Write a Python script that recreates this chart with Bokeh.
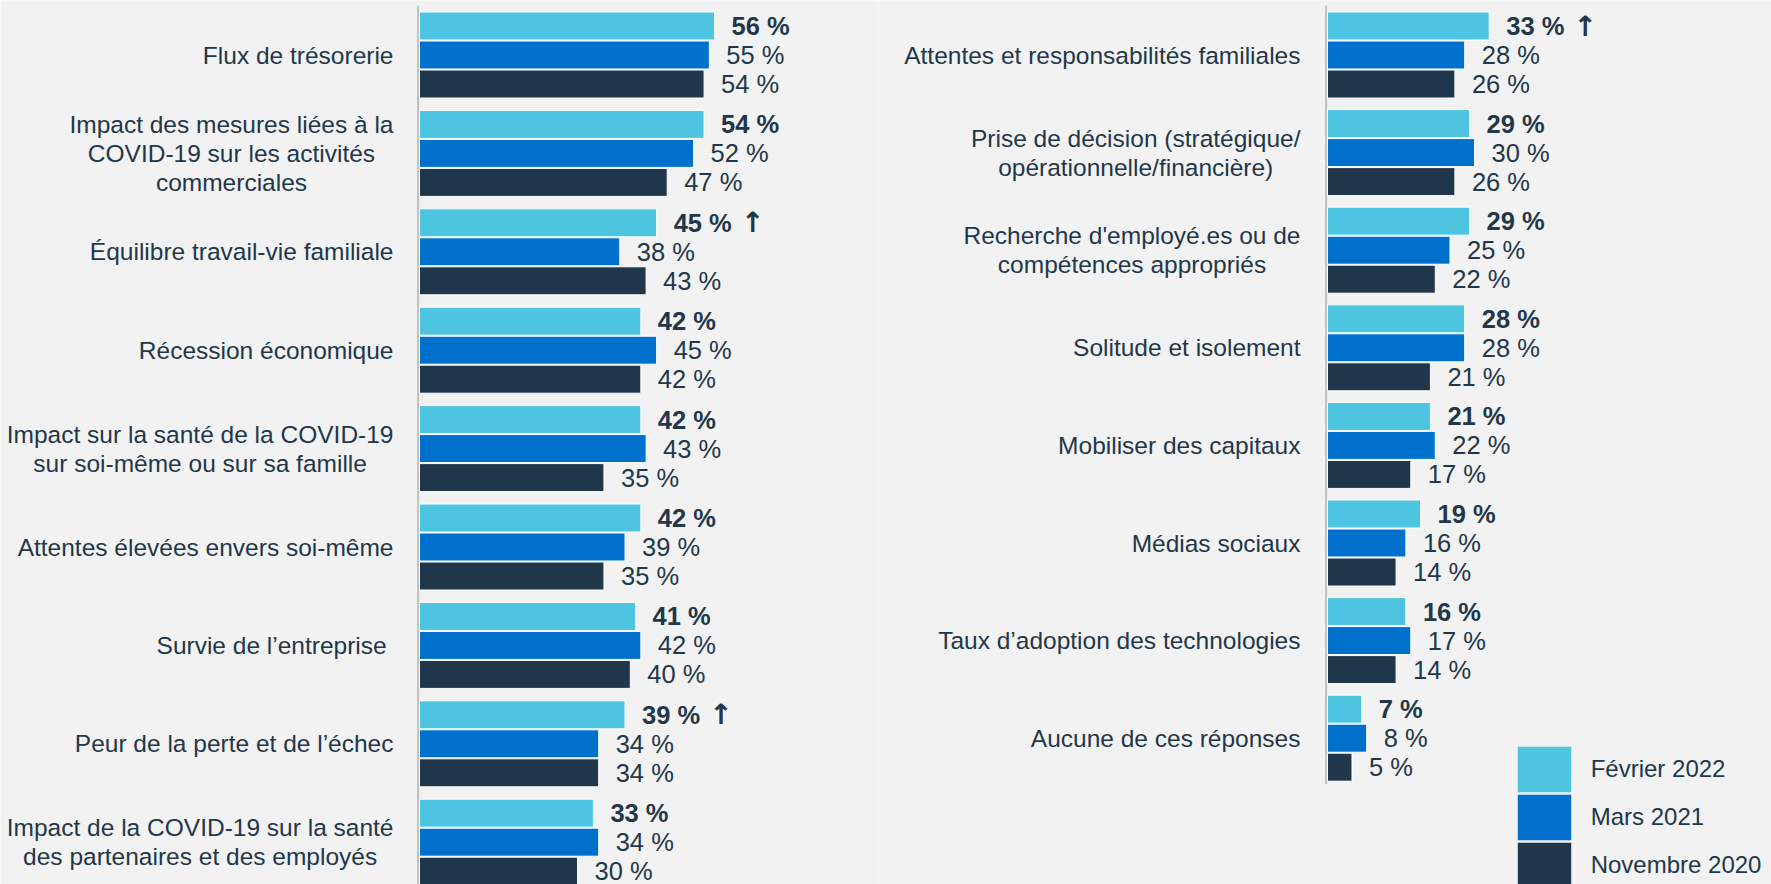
import numpy as np
from bokeh.plotting import figure
from bokeh.models import ColumnDataSource, Range1d, Legend, LegendItem
from bokeh.layouts import row
from bokeh.core.properties import value
from bokeh.embed import file_html
from bokeh.resources import INLINE

# ---------------- data ----------------
series_names = ["Février 2022", "Mars 2021", "Novembre 2020"]

left_categories = [
    "Flux de trésorerie",
    "Impact des mesures liées à la\nCOVID-19 sur les activités\ncommerciales",
    "Équilibre travail-vie familiale",
    "Récession économique",
    "Impact sur la santé de la COVID-19\nsur soi-même ou sur sa famille",
    "Attentes élevées envers soi-même",
    "Survie de l’entreprise ",
    "Peur de la perte et de l’échec",
    "Impact de la COVID-19 sur la santé\ndes partenaires et des employés",
]
left_feb2022 = [56, 54, 45, 42, 42, 42, 41, 39, 33]
left_mar2021 = [55, 52, 38, 45, 43, 39, 42, 34, 34]
left_nov2020 = [54, 47, 43, 42, 35, 35, 40, 34, 30]
left_up = [False, False, True, False, False, False, False, True, False]

right_categories = [
    "Attentes et responsabilités familiales",
    "Prise de décision (stratégique/\nopérationnelle/financière)",
    "Recherche d'employé.es ou de\ncompétences appropriés",
    "Solitude et isolement",
    "Mobiliser des capitaux",
    "Médias sociaux",
    "Taux d’adoption des technologies",
    "Aucune de ces réponses",
]
right_feb2022 = [33, 29, 29, 28, 21, 19, 16, 7]
right_mar2021 = [28, 30, 25, 28, 22, 16, 17, 8]
right_nov2020 = [26, 26, 22, 21, 17, 14, 14, 5]
right_up = [True, False, False, False, False, False, False, False]

# ---------------- style ----------------
COLORS = ["#4DC4E0", "#0070CD", "#20364A"]
TEXT = "#22374A"
BG = "#F2F2F2"
AXIS = "#BFBFBF"
FONT = value("Liberation Sans")
H = 884


def make_panel(width, px_per_unit, zero_px, group_px, categories, vals, up,
               label_gap, axis_bottom_extra=None):
    n = len(categories)
    top_center_px = 54.5
    y_top = -top_center_px / group_px
    y_bot = (H - top_center_px) / group_px
    x_start = -zero_px / px_per_unit
    x_end = (width - zero_px) / px_per_unit

    p = figure(width=width, height=H, output_backend="svg", toolbar_location=None,
               x_range=Range1d(x_start, x_end), y_range=Range1d(y_bot, y_top),
               x_axis_location=None, y_axis_location=None, min_border=0)
    p.grid.visible = False
    p.outline_line_color = None
    p.background_fill_color = BG
    p.border_fill_color = BG

    pitch = 29.0 / group_px
    bar_h = 28.0 / group_px
    idx = np.arange(n, dtype=float)

    # axis line
    y0 = y_top + 5.0 / group_px
    if axis_bottom_extra is None:
        y1 = y_bot
    else:
        y1 = (n - 1) + pitch + bar_h / 2 + axis_bottom_extra / group_px
    xl = -1.4 / px_per_unit
    p.segment(x0=[xl], x1=[xl], y0=[y0], y1=[y1], line_color=AXIS, line_width=2)

    renderers = []
    for k, (v, c) in enumerate(zip(vals, COLORS)):
        ys = idx + (k - 1) * pitch
        labels = [f"{x} %" for x in v]
        src = ColumnDataSource(dict(y=ys, right=v, label=labels))
        p.hbar(y="y", left=0, right="right", height=bar_h, source=src,
               fill_color=c, line_color="white", line_width=1)
        p.text(x="right", y="y", text="label", source=src, x_offset=17,
               text_align="left", text_baseline="middle", text_font=FONT,
               text_font_size="25.5px", text_color=TEXT,
               text_font_style="bold" if k == 0 else "normal")
        # legend proxy (hidden)
        r = p.hbar(y="y", left=0, right="right", height=bar_h, source=src,
                   fill_color=c, line_color=c, line_width=7, line_join="miter",
                   visible=False)
        renderers.append(r)
        if k == 0:
            sel = [i for i in range(n) if up[i]]
            asrc = ColumnDataSource(dict(x=[v[i] for i in sel], y=[ys[i] for i in sel],
                                         t=["↑"] * len(sel)))
            p.text(x="x", y="y", text="t", source=asrc, x_offset=17 + 79,
                   text_align="center", text_baseline="middle",
                   text_font=value("DejaVu Sans"), text_font_style="bold",
                   text_font_size="28px", text_color=TEXT)

    csrc = ColumnDataSource(dict(x=np.zeros(n), y=idx, label=categories))
    p.text(x="x", y="y", text="label", source=csrc, x_offset=-label_gap,
           anchor=value("center_right"), text_align="center", text_baseline="middle",
           text_font=FONT, text_font_size="24.5px", text_color=TEXT,
           text_line_height=1.07)
    return p, renderers


p1, _ = make_panel(878, 5.27, 419, 98.4, left_categories,
                   [left_feb2022, left_mar2021, left_nov2020], left_up, 26)
p2, rr = make_panel(893, 4.9, 449, 97.6, right_categories,
                    [right_feb2022, right_mar2021, right_nov2020], right_up, 27,
                    axis_bottom_extra=3)

# legend
items = [LegendItem(label=name, renderers=[r]) for name, r in zip(series_names, rr)]
legend = Legend(items=items, location=(636.7, -4.5), glyph_width=58, glyph_height=48,
                spacing=0, padding=0, margin=0, border_line_color=None,
                background_fill_alpha=0, label_standoff=18,
                label_text_font="Liberation Sans", label_text_font_size="24px",
                label_text_color=TEXT)
p2.add_layout(legend)

layout = row(p1, p2)
html = file_html(layout, INLINE)
html = html.replace("<body>", '<body style="background-color:#F2F2F2;">', 1)
open("out.html", "w").write(html)
